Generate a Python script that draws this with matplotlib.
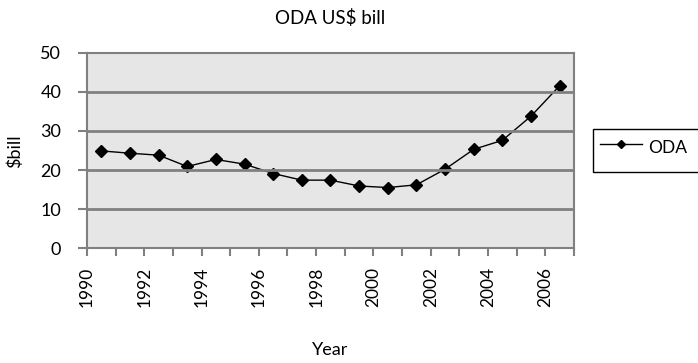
import matplotlib.pyplot as plt
import numpy as np

plt.rcParams['font.family'] = ['Lato', 'DejaVu Sans']

years = [str(y) for y in range(1990, 2007)]
oda = [24.9, 24.3, 23.8, 20.9, 22.7, 21.5, 19.1, 17.4, 17.4, 15.9,
       15.5, 16.2, 20.2, 25.3, 27.6, 33.8, 41.6]
yticks = [0, 10, 20, 30, 40, 50]

fig = plt.figure(figsize=(6.98, 3.63), dpi=100)
ax = fig.add_axes([0.1246, 0.3168, 0.6977, 0.5372])
ax.set_facecolor('#e6e6e6')

# points sit between tick marks, labels on every other tick mark
x = np.arange(len(oda)) + 0.5
ax.plot(x, oda, color='black', lw=1, marker='D', ms=6, label='ODA')

ax.set_xlim(0, len(oda))
ax.set_ylim(0, 50)
ax.set_yticks(yticks)
ax.set_xticks(np.arange(len(oda) + 1))
ax.set_xticklabels([years[i] if i % 2 == 0 and i < len(years) else '' for i in range(len(oda) + 1)],
                   rotation=90, fontsize=12.5)
ax.tick_params(axis='y', labelsize=13, length=6.5, color='#808080', width=1.5, pad=12)
ax.tick_params(axis='x', length=6, color='#808080', width=1.5, pad=7.5)

for v in yticks[1:-1]:
    ax.axhline(v, color='#808080', lw=2)
for s in ax.spines.values():
    s.set_color('#808080')
    s.set_linewidth(1.5)

ax.set_title('ODA US$ bill', fontsize=13.5, pad=21)
fig.text(15 / 698, 0.584, '$bill', rotation=90, ha='center', va='center', fontsize=13)
fig.text(0.473, 0.036, 'Year', ha='center', va='center', fontsize=13)

# legend box runs off the right edge like the original, so draw the frame by hand
leg = fig.legend(loc='upper left', bbox_to_anchor=(593 / 698, 1 - 129 / 363), fontsize=12.5,
                 frameon=False, handlelength=2.4, handletextpad=0.4,
                 borderpad=0.4, borderaxespad=0, handleheight=1.6, markerscale=0.7)
fig.patches.append(plt.Rectangle((593 / 698, 1 - 172 / 363), 0.2, 43 / 363,
                                 transform=fig.transFigure, fill=False,
                                 edgecolor='black', lw=1))

fig.savefig('out.png', dpi=100)
